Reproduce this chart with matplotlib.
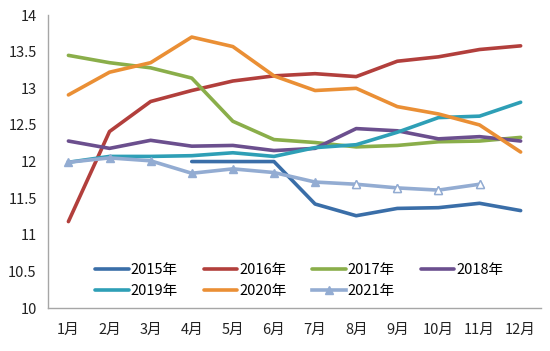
import numpy as np
import matplotlib
matplotlib.use("Agg")
import matplotlib.pyplot as plt

plt.rcParams['font.family'] = ['Noto Sans CJK SC', 'DejaVu Sans']

# ===============================
# DATA
# ===============================
months = ["1月", "2月", "3月", "4月", "5月", "6月", "7月", "8月", "9月", "10月", "11月", "12月"]
nan = np.nan
y2015 = [nan, nan, nan, 12.00, 12.00, 12.00, 11.42, 11.26, 11.36, 11.37, 11.43, 11.33]
y2016 = [11.18, 12.41, 12.82, 12.97, 13.10, 13.17, 13.20, 13.16, 13.37, 13.43, 13.53, 13.58]
y2017 = [13.45, 13.35, 13.28, 13.14, 12.55, 12.30, 12.26, 12.20, 12.22, 12.27, 12.28, 12.33]
y2018 = [12.28, 12.18, 12.29, 12.21, 12.22, 12.15, 12.18, 12.45, 12.42, 12.31, 12.34, 12.28]
y2019 = [11.99, 12.07, 12.07, 12.08, 12.12, 12.07, 12.19, 12.23, 12.40, 12.60, 12.62, 12.81]
y2020 = [12.91, 13.22, 13.35, 13.70, 13.57, 13.17, 12.97, 13.00, 12.75, 12.65, 12.50, 12.13]
y2021 = [11.99, 12.05, 12.01, 11.84, 11.90, 11.85, 11.72, 11.69, 11.64, 11.61, 11.69]

series = [
    ("2015年", y2015, "#3a6ea8"),
    ("2016年", y2016, "#b23f3c"),
    ("2017年", y2017, "#8aae4a"),
    ("2018年", y2018, "#6b4f8e"),
    ("2019年", y2019, "#2e9fb6"),
    ("2020年", y2020, "#ea8f35"),
]
c2021 = "#93acd2"

# ===============================
# PLOT
# ===============================
fig = plt.figure(figsize=(5.5, 3.51), dpi=100)
ax = fig.add_axes([0.087, 0.1225, 0.897, 0.8345])

x = np.arange(len(months))
handles = []
for name, vals, col in series:
    h, = ax.plot(x, vals, color=col, lw=2.6, label=name, solid_capstyle='round')
    handles.append(h)

x21 = x[:len(y2021)]
h21, = ax.plot(x21, y2021, color=c2021, lw=2.6, marker='^', markersize=6,
               markerfacecolor=c2021, markeredgecolor=c2021, label="2021年")
handles.append(h21)
# open triangles for the last months
ax.plot(x21[7:], y2021[7:], ls='none', marker='^', markersize=6,
        markerfacecolor='white', markeredgecolor=c2021, markeredgewidth=1.0)

ax.set_xlim(-0.5, 11.5)
ax.set_ylim(10, 14)
ax.set_yticks(np.arange(10, 14.01, 0.5))
ax.set_yticklabels(["10", "10.5", "11", "11.5", "12", "12.5", "13", "13.5", "14"])
ax.set_xticks(x)
ax.set_xticklabels(months)
ax.tick_params(length=0, labelsize=10.5, colors='#222222')
ax.tick_params(axis='x', pad=11)
ax.tick_params(axis='y', pad=8)

for s in ['top', 'right']:
    ax.spines[s].set_visible(False)
for s in ['left', 'bottom']:
    ax.spines[s].set_color('#a6a6a6')
    ax.spines[s].set_linewidth(1.0)

# legend fills column-wise, reorder so rows read 2015..2018 / 2019..2021
order = [0, 4, 1, 5, 2, 6, 3]
ax.legend([handles[i] for i in order], [handles[i].get_label() for i in order],
          loc='lower left', bbox_to_anchor=(0.075, 0.0), ncol=4, frameon=False,
          fontsize=10.5, handlelength=2.3, handletextpad=0.15, columnspacing=1.75,
          labelspacing=0.45, borderpad=0.2)

fig.savefig("out.png", dpi=100)
